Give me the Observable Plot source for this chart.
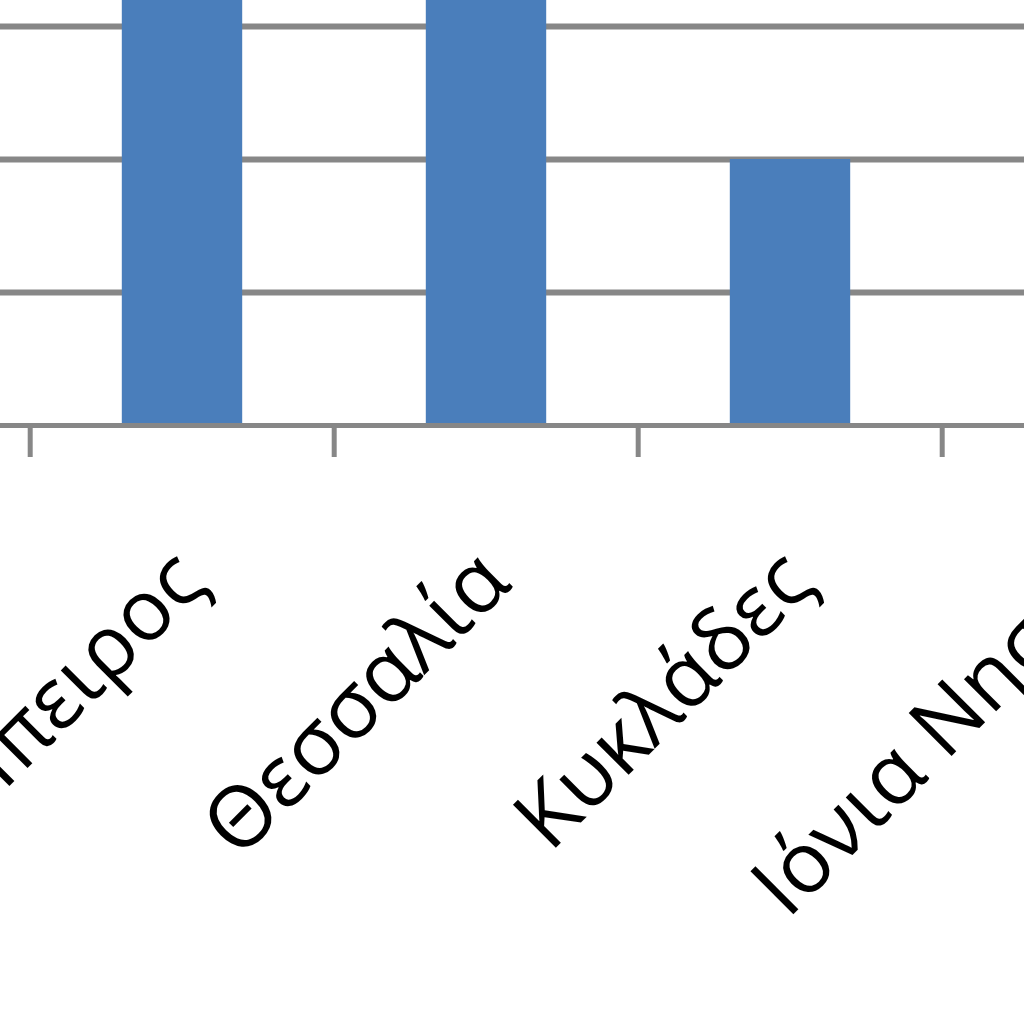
<!DOCTYPE html>
<html>
<head>
<meta charset="utf-8">
<script src="https://cdn.jsdelivr.net/npm/d3@7"></script>
<script src="https://cdn.jsdelivr.net/npm/@observablehq/plot@0.6"></script>
<style>
  html, body { margin: 0; padding: 0; background: #fff; }
  #wrap { width: 1024px; height: 1024px; overflow: hidden; position: relative; }
  #wrap svg { display: block; }
</style>
</head>
<body>
<div id="wrap"></div>
<script>
// Regions (the view is a cropped part of a wider chart)
const regions = ["Δυτική Ελλάδα", "Ήπειρος", "Θεσσαλία", "Κυκλάδες", "Ιόνια Νησιά"];
const values  = [3, 5, 4, 2, 3];
const yTicks  = [1, 2, 3];

const data = regions.map((r, i) => ({region: r, value: values[i]}));

const xRange = [-275.6, 1247.4];
const step = (xRange[1] - xRange[0]) / regions.length;
const barWidth = 121;
const inset = (step - barWidth) / 2;

const chart = Plot.plot({
  width: 1024,
  height: 1024,
  marginTop: 0,
  marginBottom: 599,
  marginLeft: 0,
  marginRight: 0,
  style: {background: "#fff", overflow: "hidden"},
  x: {type: "band", domain: regions, range: xRange, padding: 0, axis: null, label: null},
  y: {domain: [0, 3], range: [425, 26], axis: null, label: null},
  marks: [
    Plot.gridY(yTicks, {stroke: "#878787", strokeOpacity: 1, strokeWidth: 6}),
    Plot.barY(data, {x: "region", y: "value", fill: "#4a7ebb", insetLeft: inset, insetRight: inset}),
    Plot.ruleY([0], {stroke: "#878787", strokeWidth: 5}),
    Plot.axisX(regions, {tickSize: 32, tickFormat: () => "", label: null, stroke: "#878787", strokeWidth: 5, dx: -step / 2}),
    Plot.text(data, {
      x: "region", y: () => 0, text: "region",
      rotate: -45, textAnchor: "end", lineAnchor: "middle",
      dx: 8, dy: 141,
      fontSize: 85, fontFamily: "Open Sans", fill: "#000"
    })
  ]
});
document.getElementById("wrap").appendChild(chart);
</script>
</body>
</html>
